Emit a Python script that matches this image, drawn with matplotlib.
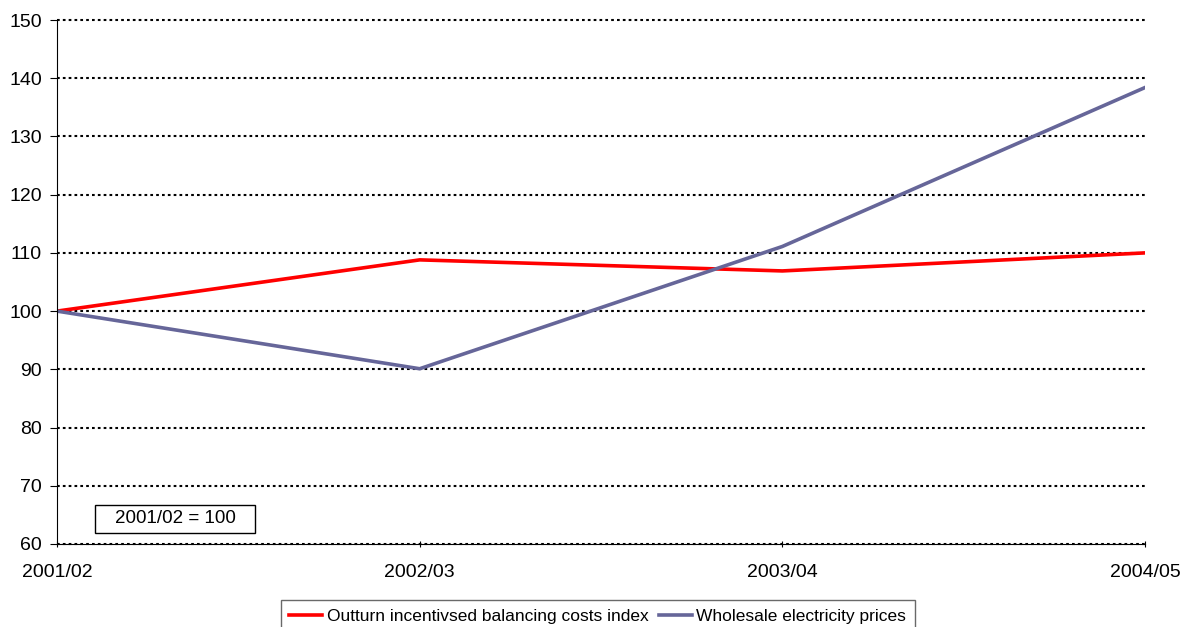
import matplotlib.pyplot as plt
from matplotlib.patches import Rectangle

years = ["2001/02", "2002/03", "2003/04", "2004/05"]
balancing = [100, 108.8, 106.9, 110.0]
wholesale = [100, 90.1, 111.1, 138.4]

plt.rcParams['font.family'] = ['Liberation Sans', 'DejaVu Sans']

fig = plt.figure(figsize=(11.81, 6.27), dpi=100)
ax = fig.add_axes([0.0483, 0.1324, 0.9212, 0.8357])

x = range(len(years))
ax.plot(x, balancing, color='#ff0000', lw=2.6, label="Outturn incentivsed balancing costs index")
ax.plot(x, wholesale, color='#666699', lw=2.6, label="Wholesale electricity prices")

ax.set_xlim(0, 3)
ax.set_ylim(60, 150)
ax.set_yticks(range(60, 151, 10))
ax.set_xticks(list(x))
ax.set_xticklabels(years)
ax.yaxis.grid(True, color='black', linestyle=(0, (1.3, 1.5)), lw=1.5)
for gl in ax.yaxis.get_gridlines():
    gl.set_clip_on(False)
ax.set_axisbelow(True)
for s in ['top', 'right']:
    ax.spines[s].set_visible(False)
ax.tick_params(axis='y', labelsize=14, length=5, direction='out', pad=6)
ax.tick_params(axis='x', labelsize=14, length=5, direction='inout', pad=12)

# base-year note box
ax.add_patch(Rectangle((0.0349, 0.021), 0.147, 0.0535, transform=ax.transAxes,
                       fc='white', ec='black', lw=1, zorder=3))
ax.text(0.1085, 0.0477, "2001/02 = 100", transform=ax.transAxes, fontsize=13.5,
        ha='center', va='center', zorder=4)

fig.legend(loc='upper center', bbox_to_anchor=(0.506, 0.043), ncol=2, fontsize=12.5,
           frameon=True, fancybox=False, edgecolor='#444444', handlelength=1.9,
           handletextpad=0.25, columnspacing=0.6, borderpad=0.5, borderaxespad=0)

fig.savefig("out.png", dpi=100)
